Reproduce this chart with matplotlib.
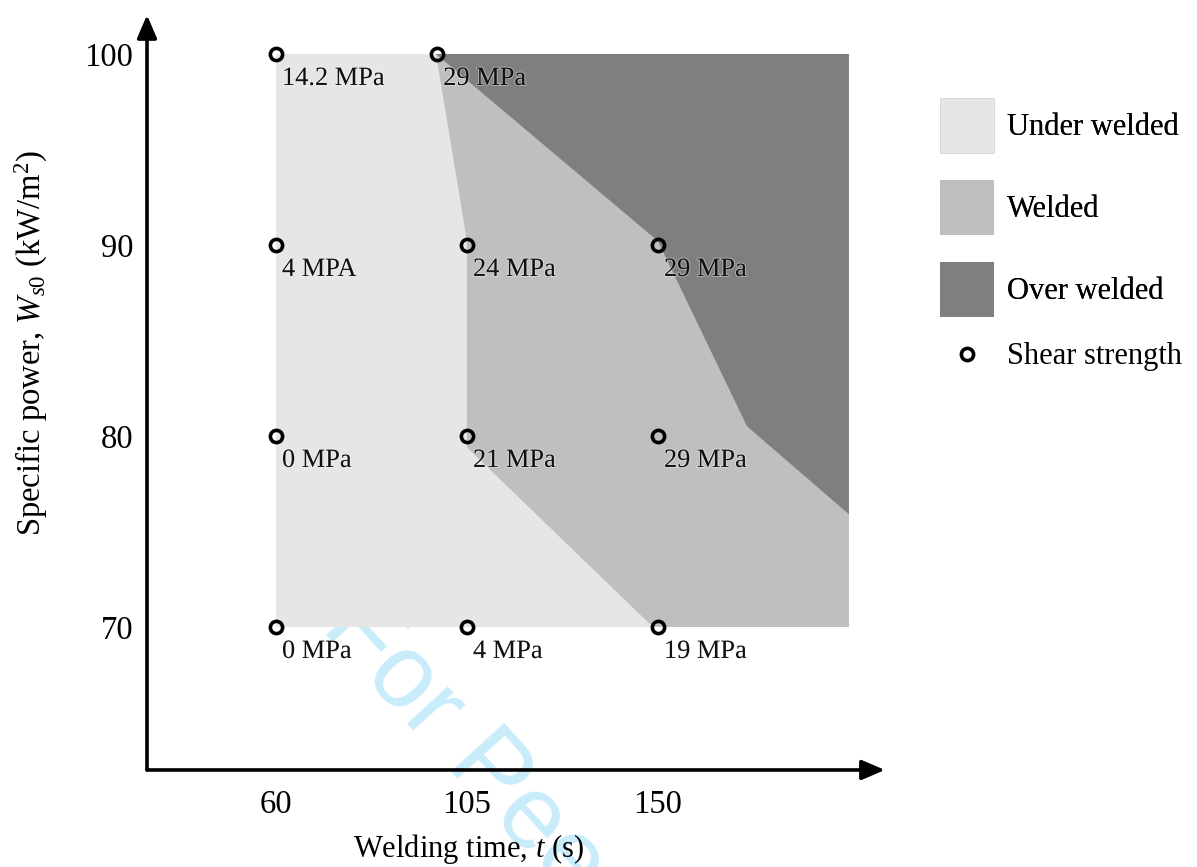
import matplotlib
matplotlib.use("Agg")
import matplotlib.pyplot as plt
from matplotlib.patches import Patch
from matplotlib.lines import Line2D
import matplotlib.patheffects as pe

plt.rcParams['font.family'] = ['Liberation Serif', 'DejaVu Serif']
plt.rcParams['mathtext.fontset'] = 'custom'
plt.rcParams['mathtext.rm'] = 'Liberation Serif'
plt.rcParams['mathtext.it'] = 'Liberation Serif:italic'

# ---- data ----
x_ticks = [60, 105, 150]
y_ticks = [70, 80, 90, 100]

# process windows (vertices)
under_x = [60, 195, 195, 60]
under_y = [70, 70, 100, 100]
welded_x = [97.7, 195, 195, 148.8, 105, 105]
welded_y = [100, 100, 70, 70, 79.4, 90.2]
over_x = [97.7, 195, 195, 171.0, 150]
over_y = [100, 100, 75.9, 80.5, 90.2]

# shear strength test points
pt_time = [60, 98, 60, 105, 150, 60, 105, 150, 60, 105, 150]
pt_power = [100, 100, 90, 90, 90, 80, 80, 80, 70, 70, 70]
pt_label = ["14.2 MPa", "29 MPa", "4 MPA", "24 MPa", "29 MPa",
            "0 MPa", "21 MPa", "29 MPa", "0 MPa", "4 MPa", "19 MPa"]

legend_labels = ["Under welded", "Welded", "Over welded", "Shear strength"]
c_under, c_welded, c_over = "#e6e6e6", "#bfbfbf", "#7f7f7f"

# ---- figure ----
fig = plt.figure(figsize=(11.97, 8.67), dpi=100)
ax = fig.add_axes([0.1228, 0.1119, 0.6165, 0.8708])
ax.set_facecolor("none")
ax.set_xlim(29.61, 203.48)
ax.set_ylim(62.51, 102.04)

# watermark (behind the plot)
fig.text(0.267, 0.275, "For Peer Review", rotation=-47.6, rotation_mode="anchor",
         ha="left", va="baseline", fontsize=75, color="#c9ecfb",
         family="Liberation Sans", zorder=-1)

ax.fill(under_x, under_y, color=c_under, lw=0, zorder=1)
ax.fill(welded_x, welded_y, color=c_welded, lw=0, zorder=2)
ax.fill(over_x, over_y, color=c_over, lw=0, zorder=3)

ax.plot(pt_time, pt_power, linestyle="none", marker="o", ms=8.8, mew=2.6,
        mfc="none", mec="black", zorder=5, clip_on=False)
for xv, yv, lab in zip(pt_time, pt_power, pt_label):
    ax.annotate(lab, (xv, yv), xytext=(6, -25), textcoords="offset pixels",
                ha="left", va="center", fontsize=19, color="#111111", zorder=6,
                path_effects=[pe.withStroke(linewidth=1.5, foreground="white", alpha=0.35)])

# axes as arrows
for s in ax.spines.values():
    s.set_visible(False)
arrow = dict(arrowstyle="-|>,head_length=0.7,head_width=0.3", lw=2.6, color="black",
             mutation_scale=20, shrinkA=0, shrinkB=0)
ax.annotate("", xy=(1, 0), xytext=(0, 0), xycoords="axes fraction", arrowprops=arrow)
ax.annotate("", xy=(0, 1), xytext=(0, 0), xycoords="axes fraction", arrowprops=arrow)

ax.set_xticks(x_ticks)
ax.set_yticks(y_ticks)
ax.tick_params(axis="both", length=0, labelsize=23.5)
ax.tick_params(axis="x", pad=14)
ax.tick_params(axis="y", pad=10)

ax.set_xlabel(r"Welding time, $t$ (s)", fontsize=22)
ax.xaxis.set_label_coords(0.435, -0.082)
ax.set_ylabel(r"Specific power, $W_{s0}$ (kW/m$^2$)", fontsize=23.5)
ax.yaxis.set_label_coords(-0.131, 0.5656)

# legend
patch_handles = [Patch(facecolor=c_under, edgecolor="#d8d8d8", lw=0.6),
                 Patch(facecolor=c_welded, edgecolor="none"),
                 Patch(facecolor=c_over, edgecolor="none")]
leg1 = fig.legend(patch_handles, legend_labels[:3], loc="upper left",
                  bbox_to_anchor=(0.7853, 0.887), frameon=False, fontsize=22,
                  handleheight=2.39, handlelength=1.77, handletextpad=0.43,
                  labelspacing=0.88, borderpad=0, borderaxespad=0)
marker_handle = [Line2D([], [], linestyle="none", marker="o", ms=8.8, mew=2.6,
                        mfc="none", mec="black")]
leg2 = fig.legend(marker_handle, legend_labels[3:], loc="center left",
                  bbox_to_anchor=(0.7853, 0.5885), frameon=False, fontsize=22,
                  handlelength=1.77, handletextpad=0.43, borderpad=0, borderaxespad=0)
fig.add_artist(leg1)

fig.savefig("out.png", dpi=100)
